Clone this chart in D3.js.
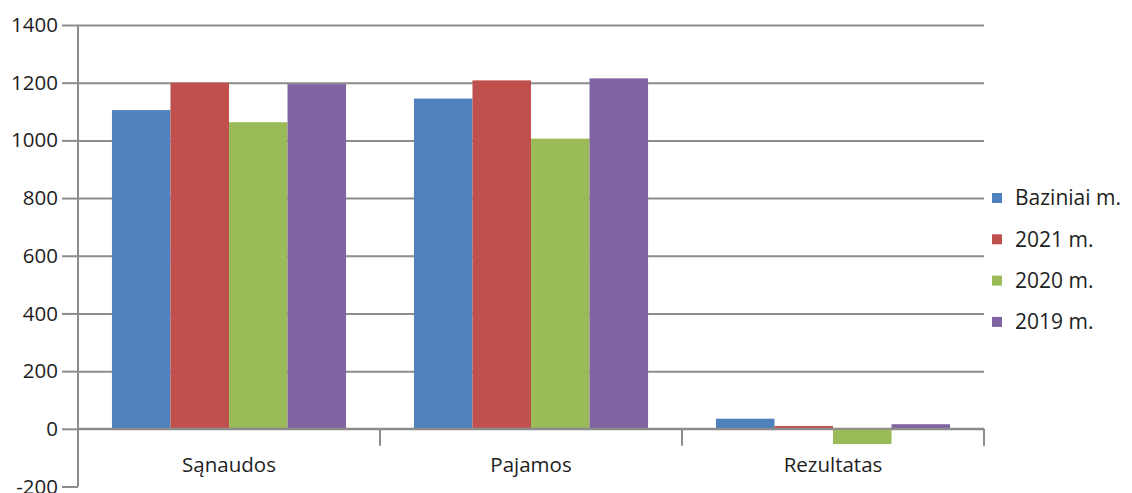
<!DOCTYPE html>
<html lang="lt">
<head>
    <meta charset="UTF-8">
    <title>Sąnaudos, pajamos, rezultatas</title>
    <style>
        body { margin: 0; background: #fff; }
        text { font-family: "Open Sans", sans-serif; fill: #1e1e1e; }
    </style>
</head>
<body>
    <div class="container"></div>
    <script src="https://cdn.jsdelivr.net/npm/d3@7/dist/d3.min.js"></script>
    <script>
        // Data
        const categories = ["Sąnaudos", "Pajamos", "Rezultatas"]
        const seriesNames = ["Baziniai m.", "2021 m.", "2020 m.", "2019 m."]
        const bazinaiValues = [1105, 1145, 35]
        const values2021 = [1200, 1208, 10]
        const values2020 = [1063, 1006, -53]
        const values2019 = [1195, 1215, 16]
        const yTicks = [-200, 0, 200, 400, 600, 800, 1000, 1200, 1400]
        const colors = ["#4f81bd", "#c0504d", "#9bbb59", "#8064a2"]

        const seriesValues = [bazinaiValues, values2021, values2020, values2019]

        // Setup
        const width = 1132
        const height = 493
        const plotLeft = 78
        const plotRight = 984
        const plotTop = 25
        const plotBottom = 486.5
        const gridColor = "#8c8c8c"
        const fontSize = "20.5px"

        const svg = d3.select(".container")
                    .append("svg")
                    .attr("width", width)
                    .attr("height", height)

        const yScale = d3.scaleLinear()
                        .domain([-200, 1400])
                        .range([plotBottom, plotTop])

        const x0 = d3.scaleBand()
                        .domain(categories)
                        .range([plotLeft, plotRight])

        const x1 = d3.scaleBand()
                        .domain(seriesNames)
                        .range([0, x0.bandwidth()])
                        .paddingOuter(0.58)

        // Horizontal grid lines with left tick labels
        const leftAxis = d3.axisLeft(yScale)
                        .tickValues(yTicks)
                        .tickSize(16)
                        .tickPadding(4)
                        .tickFormat(d => String(d))
        const leftAxisGroup = svg.append("g")
                        .attr("class", "left-axis")
                        .attr("transform", `translate(${plotLeft},0)`)
                        .call(leftAxis)
        leftAxisGroup.select(".domain").remove()
        leftAxisGroup.selectAll(".tick line")
                        .attr("stroke", gridColor)
                        .attr("stroke-width", 2)
        leftAxisGroup.selectAll(".tick text")
                        .style("font-size", fontSize)

        const gridLines = d3.axisRight(yScale)
                        .tickValues(yTicks.filter(d => d !== -200))
                        .tickSize(plotRight - plotLeft)
                        .tickFormat(() => "")
        const gridGroup = svg.append("g")
                        .attr("class", "grid-lines")
                        .attr("transform", `translate(${plotLeft},0)`)
                        .call(gridLines)
        gridGroup.select(".domain").remove()
        gridGroup.selectAll(".tick line")
                        .attr("stroke", gridColor)
                        .attr("stroke-width", 2)

        // Bars
        const groups = svg.append("g")
                        .attr("class", "bars")
                        .selectAll("g")
                        .data(seriesNames)
                        .join("g")
                        .attr("fill", (d, i) => colors[i])

        groups.selectAll("rect")
            .data((name, i) => categories.map((c, j) => ({ cat: c, name: name, value: seriesValues[i][j] })))
            .join("rect")
            .attr("x", d => x0(d.cat) + x1(d.name))
            .attr("width", x1.bandwidth())
            .attr("y", d => yScale(Math.max(0, d.value)))
            .attr("height", d => Math.abs(yScale(d.value) - yScale(0)))

        // Vertical axis line
        svg.append("line")
            .attr("x1", plotLeft).attr("x2", plotLeft)
            .attr("y1", plotTop).attr("y2", plotBottom)
            .attr("stroke", gridColor)
            .attr("stroke-width", 2)

        // Category axis at zero
        const bottomAxis = d3.axisBottom(x0)
                        .tickSize(0)
                        .tickPadding(29)
        const bottomAxisGroup = svg.append("g")
                        .attr("class", "bottom-axis")
                        .attr("transform", `translate(0,${yScale(0)})`)
                        .call(bottomAxis)
        bottomAxisGroup.select(".domain")
                        .attr("stroke", gridColor)
                        .attr("stroke-width", 2)
                        .attr("d", `M${plotLeft},0H${plotRight}`)
        bottomAxisGroup.selectAll(".tick text")
                        .style("font-size", fontSize)

        const edges = [plotLeft].concat(categories.map(c => x0(c) + x0.bandwidth()))
        bottomAxisGroup.selectAll(".cat-tick")
                        .data(edges)
                        .join("line")
                        .attr("class", "cat-tick")
                        .attr("x1", d => d).attr("x2", d => d)
                        .attr("y1", 0).attr("y2", 17)
                        .attr("stroke", gridColor)
                        .attr("stroke-width", 2)

        // Legend
        const legend = svg.append("g")
                        .attr("class", "legend")
                        .attr("transform", "translate(992,198)")
        const legendItems = legend.selectAll("g")
                        .data(seriesNames)
                        .join("g")
                        .attr("transform", (d, i) => `translate(0,${i * 41.3})`)
        legendItems.append("rect")
                        .attr("x", 0).attr("y", -5)
                        .attr("width", 10).attr("height", 10)
                        .attr("fill", (d, i) => colors[i])
        legendItems.append("text")
                        .attr("x", 23)
                        .attr("dy", "0.35em")
                        .style("font-size", "21px")
                        .text(d => d)
    </script>
</body>
</html>
